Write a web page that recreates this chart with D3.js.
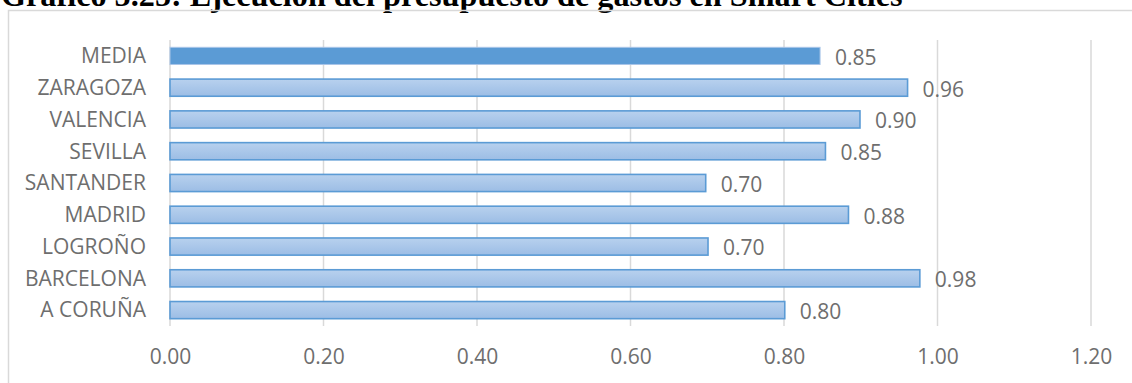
<!DOCTYPE html>
<html>
<head>
<meta charset="utf-8">
<script src="https://cdn.jsdelivr.net/npm/d3@7"></script>
<style>
  body { margin: 0; background: #fff; }
  svg { display: block; }
</style>
</head>
<body>
<div id="chart"></div>
<script>
// Data (top to bottom)
const categories = ["MEDIA", "ZARAGOZA", "VALENCIA", "SEVILLA", "SANTANDER", "MADRID", "LOGROÑO", "BARCELONA", "A CORUÑA"];
const values = [0.847, 0.961, 0.899, 0.854, 0.698, 0.884, 0.701, 0.977, 0.801];
const labels = ["0.85", "0.96", "0.90", "0.85", "0.70", "0.88", "0.70", "0.98", "0.80"];
const xTicks = [0, 0.2, 0.4, 0.6, 0.8, 1.0, 1.2];
const title = "Gráfico 5.25: Ejecución del presupuesto de gastos en Smart Cities";

const W = 1132, H = 383;
const font = "'Open Sans', 'DejaVu Sans', sans-serif";
const textColor = "#6e6e6e";
const fontSize = "21px";

const svg = d3.select("#chart").append("svg")
    .attr("width", W)
    .attr("height", H);

// Gradient for city bars
const defs = svg.append("defs");
const grad = defs.append("linearGradient")
    .attr("id", "barGrad")
    .attr("x1", 0).attr("y1", 0).attr("x2", 0).attr("y2", 1);
grad.append("stop").attr("offset", "0%").attr("stop-color", "#b8d1ee");
grad.append("stop").attr("offset", "100%").attr("stop-color", "#9cbde5");

// Title (top cut off in the picture)
const titleText = svg.append("text")
    .attr("x", 1)
    .attr("y", 6)
    .style("font-family", "'Liberation Serif', 'Times New Roman', serif")
    .style("font-weight", "bold")
    .style("font-size", "28px")
    .attr("fill", "#000")
    .text(title);
// fit title width to the picture
const tw = titleText.node().getComputedTextLength();
titleText.style("font-size", (28 * 902 / tw) + "px");

// Chart frame
svg.append("rect")
    .attr("x", 8.5)
    .attr("y", 10.5)
    .attr("width", 1130)
    .attr("height", 400)
    .attr("fill", "none")
    .attr("stroke", "#d9d9d9")
    .attr("stroke-width", 1.5);

// Scales
const x = d3.scaleLinear()
    .domain([0, 1.2])
    .range([170, 1091]);

const y = d3.scaleBand()
    .domain(categories)
    .range([40, 326])
    .paddingInner(0.46)
    .paddingOuter(0.23);

// Gridlines
svg.append("g")
    .selectAll("line")
    .data(xTicks)
    .join("line")
    .attr("x1", d => x(d))
    .attr("x2", d => x(d))
    .attr("y1", 40)
    .attr("y2", 326)
    .attr("stroke", "#d9d9d9")
    .attr("stroke-width", 1.5);

// X axis tick labels
const xAxis = svg.append("g")
    .attr("transform", "translate(0,357)")
    .call(d3.axisBottom(x).tickValues(xTicks).tickFormat(d3.format(".2f")).tickSize(0).tickPadding(0));
xAxis.select(".domain").remove();
xAxis.selectAll("text")
    .attr("dy", "0.35em")
    .attr("y", 0)
    .attr("fill", textColor)
    .style("font-family", font)
    .style("font-size", fontSize);

// Category labels
svg.append("g")
    .selectAll("text")
    .data(categories)
    .join("text")
    .attr("x", 146)
    .attr("y", d => y(d) + y.bandwidth() / 2)
    .attr("dy", "0.35em")
    .attr("text-anchor", "end")
    .attr("fill", textColor)
    .style("font-family", font)
    .style("font-size", fontSize)
    .text(d => d);

// Bars
svg.append("g")
    .selectAll("rect")
    .data(categories)
    .join("rect")
    .attr("x", x(0))
    .attr("y", d => y(d))
    .attr("width", (d, i) => x(values[i]) - x(0))
    .attr("height", y.bandwidth())
    .attr("fill", d => d === "MEDIA" ? "#5b9bd5" : "url(#barGrad)")
    .attr("stroke", d => d === "MEDIA" ? "#a9c5e8" : "#5b9bd5")
    .attr("stroke-width", d => d === "MEDIA" ? 1 : 1.6);

// Value labels
svg.append("g")
    .selectAll("text")
    .data(categories)
    .join("text")
    .attr("x", (d, i) => x(values[i]) + 15)
    .attr("y", d => y(d) + y.bandwidth() / 2 + 1.5)
    .attr("dy", "0.35em")
    .attr("fill", textColor)
    .style("font-family", font)
    .style("font-size", fontSize)
    .text((d, i) => labels[i]);
</script>
</body>
</html>
